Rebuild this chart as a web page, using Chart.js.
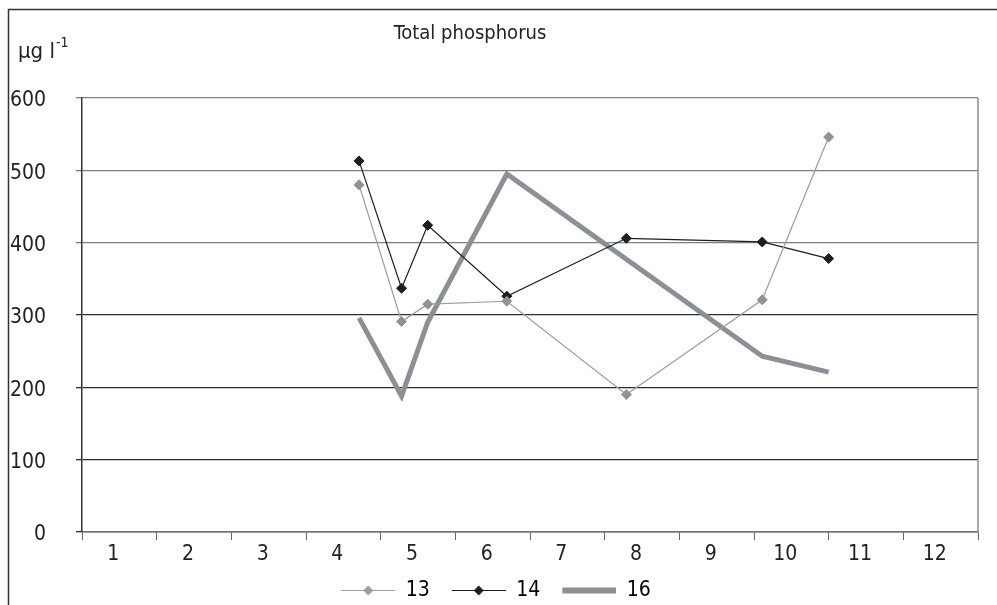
<!doctype html>
<html lang="en">
  <head>
    <meta charset="utf-8">
    <title>Total phosphorus</title>
    <script src="https://cdn.jsdelivr.net/npm/chart.js"></script>
    <style>
      body { margin: 0; background: #fff; }
    </style>
  </head>
  <body>
    <canvas id="myChart" width="997" height="605"></canvas>

    <script>
    // month labels on the x axis
    const months = [1, 2, 3, 4, 5, 6, 7, 8, 9, 10, 11, 12];
    // sampling dates, as position on the month axis
    const sampleX = [4.21, 4.78, 5.13, 6.19, 7.79, 9.61, 10.5];
    // total phosphorus, µg/l
    const site13 = [480, 291, 315, 319, 190, 321, 546];
    const site14 = [513, 337, 424, 326, 406, 401, 378];
    const site16 = [296, 188, 290, 495, null, 243, 221];
    const yTicks = [0, 100, 200, 300, 400, 500, 600];

    const FONT = "'DejaVu Sans Condensed', 'DejaVu Sans', sans-serif";
    const STRETCH = 'condensed';
    Chart.defaults.font.family = FONT;
    Chart.defaults.font.size = 21;
    Chart.defaults.font.weight = STRETCH;
    Chart.defaults.color = '#222';

    function toPoints(vals) {
        return sampleX.map((x, i) => ({ x: x, y: vals[i] }));
    }

    // legend swatch: blank gap on the left, then a line with optional diamond
    const SW_GAP = 14, SW_LEN = 54;
    function swatch(color, width, diamond) {
        const c = document.createElement('canvas');
        c.width = SW_GAP + SW_LEN; c.height = 15;
        const g = c.getContext('2d');
        g.strokeStyle = color;
        g.lineWidth = width;
        g.beginPath();
        g.moveTo(SW_GAP, 7.5); g.lineTo(SW_GAP + SW_LEN, 7.5);
        g.stroke();
        if (diamond) {
            const cx = SW_GAP + SW_LEN / 2;
            g.fillStyle = color;
            g.beginPath();
            g.moveTo(cx, 2.5); g.lineTo(cx + 5, 7.5); g.lineTo(cx, 12.5); g.lineTo(cx - 5, 7.5);
            g.closePath();
            g.fill();
        }
        return c;
    }

    const extras = {
        id: 'extras',
        beforeDraw(chart) {
            const ctx = chart.ctx;
            ctx.save();
            // outer frame (top + left)
            ctx.strokeStyle = '#333';
            ctx.lineWidth = 1.5;
            ctx.beginPath();
            ctx.moveTo(8.5, 605); ctx.lineTo(8.5, 9.5); ctx.lineTo(997, 9.5);
            ctx.stroke();
            ctx.restore();
        },
        afterDatasetsDraw(chart) {
            const ctx = chart.ctx;
            const a = chart.chartArea;
            ctx.save();
            ctx.strokeStyle = '#8a8e94';
            ctx.lineWidth = 1.5;
            ctx.beginPath();
            ctx.moveTo(a.right, a.top); ctx.lineTo(a.right, a.bottom);
            ctx.stroke();
            // title and unit
            ctx.fillStyle = '#222';
            ctx.textBaseline = 'alphabetic';
            ctx.textAlign = 'center';
            ctx.font = STRETCH + ' 20px ' + FONT;
            ctx.fillText('Total phosphorus', 470, 39);
            ctx.textAlign = 'left';
            ctx.font = STRETCH + ' 22px ' + FONT;
            ctx.fillText('\u00b5g l', 18, 58);
            const w = ctx.measureText('\u00b5g l').width;
            ctx.font = STRETCH + ' 14px ' + FONT;
            ctx.fillText('-1', 18 + w + 1, 47);
            ctx.restore();
        }
    };

    const myChart = new Chart(document.getElementById('myChart'), {
        type: 'line',
        data: {
            datasets: [{
                label: '13',
                data: toPoints(site13),
                borderColor: '#9a9da2',
                backgroundColor: '#8f9398',
                borderWidth: 1.2,
                pointStyle: 'rectRot',
                pointRadius: 5,
                pointBorderWidth: 1,
                pointBorderColor: '#8f9398'
            }, {
                label: '14',
                data: toPoints(site14),
                borderColor: '#1e1e1e',
                backgroundColor: '#1e1e1e',
                borderWidth: 1.2,
                pointStyle: 'rectRot',
                pointRadius: 5,
                pointBorderWidth: 1,
                pointBorderColor: '#1e1e1e'
            }, {
                label: '16',
                data: toPoints(site16),
                borderColor: '#8c9096',
                backgroundColor: '#8c9096',
                borderWidth: 5,
                pointRadius: 0,
                spanGaps: true
            }]
        },
        options: {
            responsive: false,
            animation: false,
            devicePixelRatio: 1,
            layout: { padding: { top: 98, right: 19, left: 0, bottom: -6 } },
            scales: {
                x: {
                    type: 'linear',
                    min: 0.5,
                    max: 12.5,
                    afterBuildTicks: (scale) => {
                        scale.ticks = months.map(v => ({ value: v }));
                    },
                    afterFit: (scale) => { scale.height = 40; },
                    ticks: {
                        autoSkip: false,
                        maxRotation: 0,
                        labelOffset: -6,
                        padding: 2,
                        callback: (v) => String(v)
                    },
                    grid: {
                        offset: true,
                        drawOnChartArea: false,
                        tickLength: 8,
                        color: '#666'
                    },
                    border: { color: '#6f7378', width: 1.5 }
                },
                y: {
                    min: 0,
                    max: 600,
                    afterBuildTicks: (scale) => {
                        scale.ticks = yTicks.map(v => ({ value: v }));
                    },
                    afterFit: (scale) => { scale.width = 82; },
                    ticks: { padding: 30, labelOffset: 3 },
                    grid: {
                        tickLength: 6,
                        lineWidth: 1.3,
                        color: (c) => (c.tick && c.tick.value >= 400 ? '#7b7f85' : '#2e2e2e')
                    },
                    border: { color: '#333', width: 1.5 }
                }
            },
            plugins: {
                legend: {
                    position: 'bottom',
                    labels: {
                        usePointStyle: true,
                        pointStyleWidth: SW_GAP + SW_LEN,
                        padding: 8,
                        color: '#222',
                        generateLabels: (chart) => {
                            const sw = [swatch('#9a9da2', 1, true), swatch('#1e1e1e', 1, true), swatch('#8c9096', 6, false)];
                            return chart.data.datasets.map((ds, i) => ({
                                text: ds.label,
                                pointStyle: sw[i],
                                fillStyle: ds.borderColor,
                                strokeStyle: ds.borderColor,
                                lineWidth: 0,
                                hidden: false,
                                datasetIndex: i
                            }));
                        }
                    }
                },
                tooltip: { enabled: false }
            }
        },
        plugins: [extras]
    });
    </script>
  </body>
</html>
